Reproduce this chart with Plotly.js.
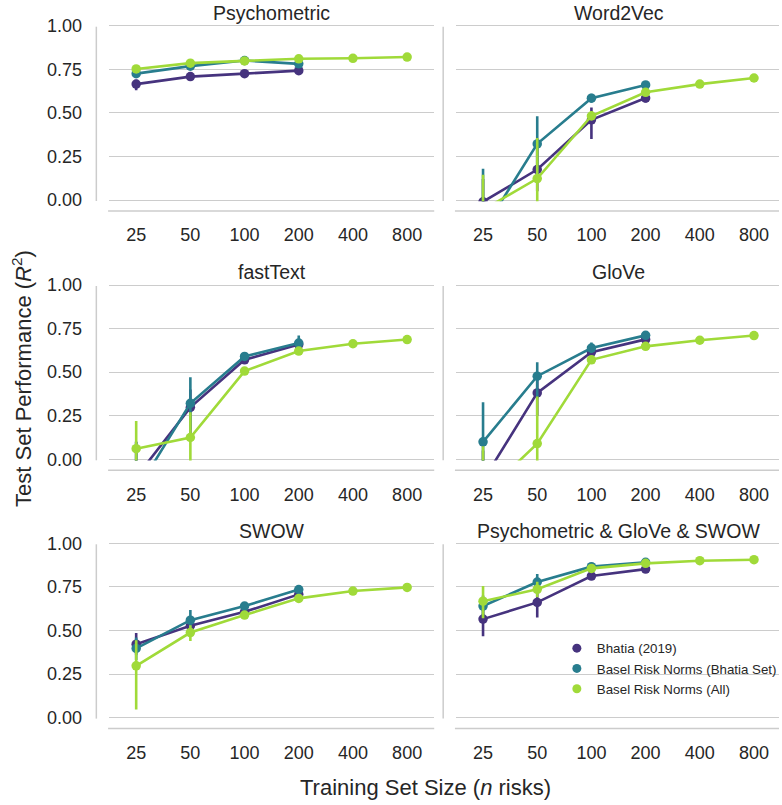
<!DOCTYPE html>
<html>
<head>
<meta charset="utf-8">
<script src="https://cdn.plot.ly/plotly-3.0.1.min.js"></script>
<style>html,body{margin:0;padding:0;background:#fff;}#chart{width:782px;height:805px;}</style>
</head>
<body>
<div id="chart"></div>
<script>
// ---------- DATA ----------
const sizes = ["25", "50", "100", "200", "400", "800"];
const panelTitles = ["Psychometric", "Word2Vec", "fastText", "GloVe", "SWOW", "Psychometric & GloVe & SWOW"];
const seriesNames = ["Bhatia (2019)", "Basel Risk Norms (Bhatia Set)", "Basel Risk Norms (All)"];
const seriesColors = ["#46337e", "#287d8e", "#a0da39"];

// Psychometric
const psy_bhatia      = [0.665, 0.708, 0.725, 0.742];
const psy_bhatia_lo   = [0.630, 0.695, 0.712, 0.730];
const psy_bhatia_hi   = [0.690, 0.720, 0.738, 0.755];
const psy_bset        = [0.725, 0.768, 0.800, 0.781];
const psy_bset_lo     = [0.710, 0.755, 0.788, 0.768];
const psy_bset_hi     = [0.740, 0.780, 0.812, 0.795];
const psy_all         = [0.752, 0.785, 0.798, 0.810, 0.813, 0.820];
const psy_all_lo      = [0.740, 0.775, 0.790, 0.803, 0.808, 0.816];
const psy_all_hi      = [0.765, 0.795, 0.806, 0.817, 0.818, 0.824];

// Word2Vec
const w2v_bhatia      = [-0.010, 0.175, 0.460, 0.585];
const w2v_bhatia_lo   = [-0.200, 0.050, 0.350, 0.560];
const w2v_bhatia_hi   = [0.120, 0.300, 0.530, 0.610];
const w2v_bset        = [-0.176, 0.322, 0.584, 0.660];
const w2v_bset_lo     = [-0.500, 0.150, 0.560, 0.640];
const w2v_bset_hi     = [0.180, 0.480, 0.610, 0.680];
const w2v_all         = [-0.057, 0.123, 0.482, 0.618, 0.665, 0.700];
const w2v_all_lo      = [-0.300, -0.100, 0.460, 0.605, 0.655, 0.692];
const w2v_all_hi      = [0.145, 0.355, 0.510, 0.630, 0.675, 0.708];

// fastText
const ft_bhatia       = [-0.103, 0.298, 0.571, 0.658];
const ft_bhatia_lo    = [-0.400, 0.150, 0.550, 0.630];
const ft_bhatia_hi    = [0.100, 0.400, 0.590, 0.680];
const ft_bset         = [-0.185, 0.321, 0.590, 0.667];
const ft_bset_lo      = [-0.500, 0.170, 0.570, 0.640];
const ft_bset_hi      = [0.100, 0.471, 0.610, 0.710];
const ft_all          = [0.061, 0.125, 0.506, 0.621, 0.663, 0.687];
const ft_all_lo       = [-0.150, -0.050, 0.490, 0.610, 0.655, 0.680];
const ft_all_hi       = [0.220, 0.270, 0.520, 0.632, 0.671, 0.694];

// GloVe
const glv_bhatia      = [-0.122, 0.381, 0.615, 0.688];
const glv_bhatia_lo   = [-0.400, 0.250, 0.590, 0.670];
const glv_bhatia_hi   = [0.050, 0.470, 0.640, 0.710];
const glv_bset        = [0.100, 0.477, 0.638, 0.711];
const glv_bset_lo     = [-0.150, 0.350, 0.610, 0.690];
const glv_bset_hi     = [0.327, 0.557, 0.670, 0.730];
const glv_all         = [-0.207, 0.090, 0.571, 0.648, 0.683, 0.710];
const glv_all_lo      = [-0.500, -0.200, 0.550, 0.635, 0.675, 0.703];
const glv_all_hi      = [0.075, 0.360, 0.590, 0.660, 0.691, 0.717];

// SWOW
const swow_bhatia     = [0.421, 0.527, 0.607, 0.707];
const swow_bhatia_lo  = [0.360, 0.490, 0.580, 0.690];
const swow_bhatia_hi  = [0.486, 0.560, 0.630, 0.720];
const swow_bset       = [0.397, 0.559, 0.640, 0.735];
const swow_bset_lo    = [0.330, 0.500, 0.620, 0.720];
const swow_bset_hi    = [0.460, 0.617, 0.660, 0.750];
const swow_all        = [0.297, 0.488, 0.588, 0.684, 0.726, 0.747];
const swow_all_lo     = [0.046, 0.440, 0.570, 0.672, 0.718, 0.741];
const swow_all_hi     = [0.444, 0.530, 0.610, 0.696, 0.734, 0.753];

// Psychometric & GloVe & SWOW
const comb_bhatia     = [0.565, 0.661, 0.812, 0.852];
const comb_bhatia_lo  = [0.467, 0.575, 0.790, 0.840];
const comb_bhatia_hi  = [0.636, 0.730, 0.830, 0.870];
const comb_bset       = [0.640, 0.778, 0.866, 0.891];
const comb_bset_lo    = [0.580, 0.730, 0.850, 0.880];
const comb_bset_hi    = [0.700, 0.824, 0.880, 0.900];
const comb_all        = [0.668, 0.736, 0.856, 0.885, 0.900, 0.906];
const comb_all_lo     = [0.570, 0.690, 0.845, 0.878, 0.895, 0.902];
const comb_all_hi     = [0.755, 0.780, 0.866, 0.892, 0.905, 0.910];

const panelData = [
  [[psy_bhatia, psy_bhatia_lo, psy_bhatia_hi], [psy_bset, psy_bset_lo, psy_bset_hi], [psy_all, psy_all_lo, psy_all_hi]],
  [[w2v_bhatia, w2v_bhatia_lo, w2v_bhatia_hi], [w2v_bset, w2v_bset_lo, w2v_bset_hi], [w2v_all, w2v_all_lo, w2v_all_hi]],
  [[ft_bhatia, ft_bhatia_lo, ft_bhatia_hi], [ft_bset, ft_bset_lo, ft_bset_hi], [ft_all, ft_all_lo, ft_all_hi]],
  [[glv_bhatia, glv_bhatia_lo, glv_bhatia_hi], [glv_bset, glv_bset_lo, glv_bset_hi], [glv_all, glv_all_lo, glv_all_hi]],
  [[swow_bhatia, swow_bhatia_lo, swow_bhatia_hi], [swow_bset, swow_bset_lo, swow_bset_hi], [swow_all, swow_all_lo, swow_all_hi]],
  [[comb_bhatia, comb_bhatia_lo, comb_bhatia_hi], [comb_bset, comb_bset_lo, comb_bset_hi], [comb_all, comb_all_lo, comb_all_hi]]
];
const yTicks = [0, 0.25, 0.5, 0.75, 1.0];

// ---------- LAYOUT GEOMETRY (pixels) ----------
const W = 782, H = 805;
const FONT = "Liberation Sans, Arial, Helvetica, sans-serif";
const TXT = "#262626";
const GRID = "#cccccc";
const catW = 54.4;
const colLeft = [109.5, 457.7];
const rowTop = [25.7, 285.0, 543.3];
const rowH = 174.3;
const pad = 1.2; // px of extra range so that gridlines at 0 and 1 are drawn
const px = v => v / W;
const py = v => 1 - v / H;

const traces = [];
const layout = {
  width: W, height: H,
  margin: {l: 0, r: 0, t: 0, b: 0},
  paper_bgcolor: "#ffffff", plot_bgcolor: "#ffffff",
  font: {family: FONT, color: TXT},
  showlegend: true,
  legend: {
    x: px(559), y: py(633), xanchor: "left", yanchor: "top",
    bgcolor: "rgba(0,0,0,0)", borderwidth: 0, tracegroupgap: 0,
    font: {family: FONT, size: 13.3, color: TXT},
    itemclick: false
  },
  shapes: [], annotations: []
};

for (let p = 0; p < 6; p++) {
  const r = Math.floor(p / 2), c = p % 2;
  const n = p + 1;
  const xa = "xaxis" + (n === 1 ? "" : n), ya = "yaxis" + (n === 1 ? "" : n);
  const xr = "x" + (n === 1 ? "" : n), yr = "y" + (n === 1 ? "" : n);
  const x0 = colLeft[c];
  const x1 = Math.min(W, x0 + 6 * catW);
  const top = rowTop[r], bot = rowTop[r] + rowH;
  const e = pad / rowH;
  layout[xa] = {
    domain: [px(x0), px(x1)], anchor: yr,
    type: "category", categoryorder: "array", categoryarray: sizes,
    range: [-0.5, -0.5 + (x1 - x0) / catW],
    showgrid: false, zeroline: false, showline: false, ticks: "",
    tickfont: {family: FONT, size: 18, color: TXT},
    ticklabelstandoff: 21, fixedrange: true
  };
  layout[ya] = {
    domain: [py(bot + pad), py(top - pad)], anchor: xr,
    range: [-e, 1 + e], tickvals: yTicks, tickformat: ".2f",
    showgrid: true, gridcolor: GRID, gridwidth: 1,
    zeroline: false, showline: false, ticks: "",
    showticklabels: c === 0,
    tickfont: {family: FONT, size: 18, color: TXT},
    ticklabelstandoff: 26, fixedrange: true
  };
  // offset spines
  const sx = x0 - 12.8;
  layout.shapes.push({type: "line", xref: "paper", yref: "paper",
    x0: px(sx), x1: px(sx), y0: py(top + 1), y1: py(bot + 1),
    line: {color: GRID, width: 1.5}});
  layout.shapes.push({type: "line", xref: "paper", yref: "paper",
    x0: px(x0 - 1), x1: px(x1), y0: py(bot + 11), y1: py(bot + 11),
    line: {color: GRID, width: 1.5}});
  // panel title
  layout.annotations.push({text: panelTitles[p], xref: "paper", yref: "paper",
    x: px(x0 + 3 * catW), y: py(top - 12.5), xanchor: "center", yanchor: "middle",
    showarrow: false, font: {family: FONT, size: 19.5, color: TXT}});

  for (let s = 0; s < 3; s++) {
    const [m, lo, hi] = panelData[p][s];
    traces.push({
      type: "scatter", mode: "lines+markers",
      x: sizes.slice(0, m.length), y: m,
      xaxis: xr, yaxis: yr,
      name: seriesNames[s], showlegend: false, cliponaxis: true,
      line: {color: seriesColors[s], width: 2.6},
      marker: {color: seriesColors[s], size: 9.5},
      error_y: {type: "data", symmetric: false,
        array: hi.map((v, i) => v - m[i]),
        arrayminus: lo.map((v, i) => m[i] - v),
        color: seriesColors[s], thickness: 2.6, width: 0},
      hoverinfo: "skip"
    });
  }
}

// legend entries (markers only)
for (let s = 0; s < 3; s++) {
  traces.push({
    type: "scatter", mode: "markers", x: [null], y: [null],
    xaxis: "x6", yaxis: "y6", name: seriesNames[s], showlegend: true,
    marker: {color: seriesColors[s], size: 9}
  });
}

// figure-level axis titles
layout.annotations.push({text: "Training Set Size (<i>n</i> risks)", xref: "paper", yref: "paper",
  x: px(427), y: py(787), xanchor: "center", yanchor: "middle", showarrow: false,
  font: {family: FONT, size: 22, color: TXT}});
layout.annotations.push({text: "Test Set Performance (<i>R</i><sup>2</sup>)", xref: "paper", yref: "paper",
  x: px(22), y: py(378), xanchor: "center", yanchor: "middle", showarrow: false, textangle: -90,
  font: {family: FONT, size: 22, color: TXT}});

Plotly.newPlot("chart", traces, layout, {displayModeBar: false, staticPlot: true});
</script>
</body>
</html>
